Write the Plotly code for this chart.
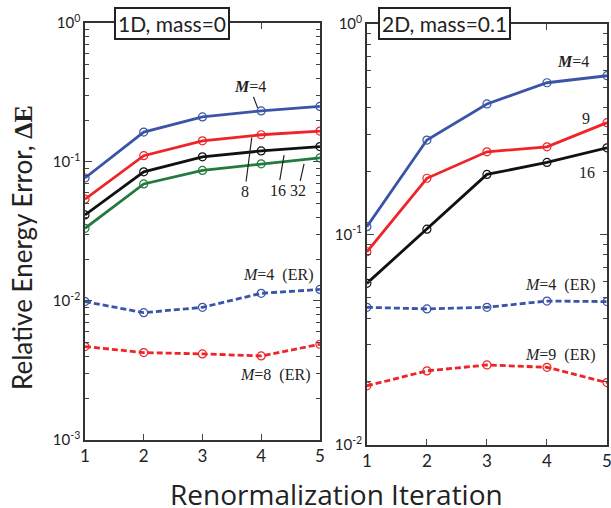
import math
import plotly.graph_objects as go

iters = [1, 2, 3, 4, 5]

# 1D, mass=0
d1_m4 = [0.0767, 0.164, 0.211, 0.233, 0.251]
d1_m8 = [0.054, 0.111, 0.142, 0.157, 0.167]
d1_m16 = [0.0416, 0.085, 0.109, 0.120, 0.129]
d1_m32 = [0.0333, 0.0695, 0.087, 0.097, 0.107]
d1_m4_er = [0.00989, 0.00824, 0.0090, 0.01135, 0.0121]
d1_m8_er = [0.0047, 0.00425, 0.00416, 0.00402, 0.00488]

# 2D, mass=0.1
d2_m4 = [0.109, 0.281, 0.417, 0.526, 0.568]
d2_m9 = [0.0828, 0.185, 0.247, 0.261, 0.340]
d2_m16 = [0.0586, 0.106, 0.193, 0.220, 0.258]
d2_m4_er = [0.0451, 0.0443, 0.0451, 0.0483, 0.0480]
d2_m9_er = [0.0191, 0.0225, 0.0240, 0.0234, 0.0198]

BLUE = "#3a55a8"
RED = "#ee2428"
BLACK = "#111111"
GREEN = "#237a3f"

fig = go.Figure()

def add(y, color, dash, xa, ya):
    fig.add_trace(go.Scatter(
        x=iters, y=y, mode="lines+markers", xaxis=xa, yaxis=ya,
        line=dict(color=color, width=2.8, dash=dash),
        marker=dict(symbol="circle-open", size=8, color=color, line=dict(width=1.2)),
        showlegend=False, hoverinfo="skip"))

DASH = "6px,3px"
add(d1_m32, GREEN, "solid", "x", "y")
add(d1_m16, BLACK, "solid", "x", "y")
add(d1_m8, RED, "solid", "x", "y")
add(d1_m4, BLUE, "solid", "x", "y")
add(d1_m4_er, BLUE, DASH, "x", "y")
add(d1_m8_er, RED, DASH, "x", "y")

add(d2_m16, BLACK, "solid", "x2", "y2")
add(d2_m9, RED, "solid", "x2", "y2")
add(d2_m4, BLUE, "solid", "x2", "y2")
add(d2_m4_er, BLUE, DASH, "x2", "y2")
add(d2_m9_er, RED, DASH, "x2", "y2")

tickfont = dict(family="Lato", size=15, color="#222")

def minor_vals(lo, hi):
    vals = []
    for e in range(lo, hi):
        for m in range(2, 10):
            vals.append(m * 10 ** e)
    return vals

xcommon = dict(range=[1, 5], tickvals=iters, ticks="inside", ticklen=6, showline=True,
               linecolor="#333", linewidth=1.5, mirror="ticks", showgrid=False,
               zeroline=False, automargin=False, ticklabeloverflow="allow",
               tickfont=dict(family="Lato", size=17, color="#222"))

fig.update_layout(
    width=611, height=508,
    margin=dict(l=85, r=4, t=23, b=63),
    paper_bgcolor="white", plot_bgcolor="white",
    xaxis=dict(domain=[0, 0.45], anchor="y", **xcommon),
    xaxis2=dict(domain=[0.54, 1], anchor="y2", **xcommon),
    yaxis=dict(type="log", range=[-3, 0], domain=[0.012, 1], anchor="x",
               tickvals=[1e-3, 1e-2, 1e-1, 1],
               ticktext=["10<sup>-3</sup>", "10<sup>-2</sup>", "10<sup>-1</sup>", "10<sup>0</sup>"],
               ticks="inside", ticklen=7, showline=True, linecolor="#333", linewidth=1.5,
               mirror="ticks", showgrid=False, zeroline=False, tickfont=tickfont, automargin=False,
               minor=dict(tickvals=minor_vals(-3, 0), ticks="inside", ticklen=4, showgrid=False)),
    yaxis2=dict(type="log", range=[-2, 0], domain=[0, 0.9976], anchor="x2",
                tickvals=[1e-2, 1e-1, 1],
                ticktext=["10<sup>-2</sup>", "10<sup>-1</sup>", "10<sup>0</sup>"],
                ticks="inside", ticklen=7, showline=True, linecolor="#333", linewidth=1.5,
                mirror="ticks", showgrid=False, zeroline=False, tickfont=tickfont, automargin=False,
                minor=dict(tickvals=minor_vals(-2, 0), ticks="inside", ticklen=4, showgrid=False)),
)

serif = dict(family="Liberation Serif", size=16, color="#222")
L = math.log10

# panel titles
box = dict(xref="paper", yref="paper", showarrow=False, xanchor="center", yanchor="middle",
           font=dict(family="Lato", size=21, color="#222"),
           bgcolor="white", bordercolor="#222", borderwidth=2, borderpad=2)
fig.add_annotation(text="1D, mass=0", x=(172 - 85) / 522, y=1.0, **box)
fig.add_annotation(text="2D, mass=0.1", x=(444 - 85) / 522, y=0.998, **box)

# left panel leader labels
lead = dict(showarrow=True, arrowhead=0, arrowwidth=1.2, arrowcolor="#222", font=serif,
            xref="x", yref="y")
fig.add_annotation(text="<i><b>M</b></i>=4", x=3.94, y=L(0.245), ax=-8, ay=-21, **lead)
fig.add_annotation(text="8", x=3.84, y=L(0.150), ax=-7, ay=54, **lead)
fig.add_annotation(text="16", x=4.39, y=L(0.112), ax=-6, ay=35, **lead)
fig.add_annotation(text="32", x=4.73, y=L(0.097), ax=-6, ay=27, **lead)

plain = dict(showarrow=False, font=serif, xanchor="center", yanchor="middle")
fig.add_annotation(text="<i>M</i>=4  (ER)", x=4.285, y=L(0.01538), xref="x", yref="y", **plain)
fig.add_annotation(text="<i>M</i>=8  (ER)", x=4.23, y=L(0.00294), xref="x", yref="y", **plain)
fig.add_annotation(text="<i><b>M</b></i>=4", x=4.43, y=L(0.66), xref="x2", yref="y2", **plain)
fig.add_annotation(text="9", x=4.65, y=L(0.354), xref="x2", yref="y2", **plain)
fig.add_annotation(text="16", x=4.67, y=L(0.198), xref="x2", yref="y2", **plain)
fig.add_annotation(text="<i>M</i>=4  (ER)", x=4.22, y=L(0.0575), xref="x2", yref="y2", **plain)
fig.add_annotation(text="<i>M</i>=9  (ER)", x=4.22, y=L(0.0268), xref="x2", yref="y2", **plain)

# axis titles
fig.add_annotation(text="Relative Energy Error, <b><span style='font-family:Liberation Serif'>\u0394E</span></b>",
                   xref="paper", yref="paper", x=(22 - 85) / 522, y=(445 - 248) / 422,
                   xanchor="center", yanchor="middle",
                   textangle=-90, showarrow=False,
                   font=dict(family="Lato", size=26, color="#222"))
fig.add_annotation(text="Renormalization Iteration", xref="paper", yref="paper",
                   x=(336 - 85) / 522, y=-(494 - 445) / 422, xanchor="center", yanchor="middle",
                   showarrow=False,
                   font=dict(family="Open Sans", size=28, color="#222"))

fig.write_html("out.html", config={"displayModeBar": False},
               post_script="document.body.style.margin='0';")
